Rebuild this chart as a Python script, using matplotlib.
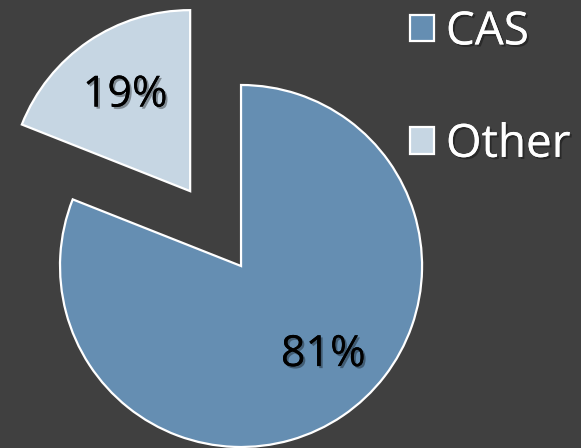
import matplotlib
matplotlib.use("Agg")
import matplotlib.pyplot as plt
import matplotlib.patheffects as pe
import matplotlib.transforms as mtransforms

# ─── Data ─────────────────────────────────────────────────────────────────────
labels = ["Other", "CAS"]
values = [19, 81]
colors = ["#c6d6e3", "#658eb2"]
explode = [0.5, 0.0]

BG = "#404040"
plt.rcParams["font.family"] = ["Open Sans", "DejaVu Sans"]

fig = plt.figure(figsize=(5.81, 4.48), dpi=100, facecolor=BG)
ax = fig.add_axes([0, 0, 1, 1])
ax.set_facecolor(BG)

shadow = [pe.withSimplePatchShadow(offset=(1.5, -1.5), shadow_rgbFace="black", alpha=0.35), pe.Normal()]

wedges, texts, autotexts = ax.pie(
    values, colors=colors, explode=explode, startangle=90, counterclock=True,
    autopct="%d%%", pctdistance=0.64,
    wedgeprops=dict(edgecolor="white", linewidth=1.6),
    textprops=dict(fontsize=31, color="black"),
)
for t in autotexts:
    t.set_path_effects(shadow)
# the 81% label sits a little right of the wedge middle in the original
autotexts[1].set_transform(autotexts[1].get_transform() +
                           mtransforms.ScaledTranslation(0.17, 0.07, fig.dpi_scale_trans))

# map the pie onto the canvas: centre near (241, 266) px, radius 181 px
ax.set_xlim(-1.3315, 1.878)
ax.set_ylim(-1.0055, 1.4696)
ax.set_aspect("auto")
ax.axis("off")

# legend: CAS first, then Other
order = [1, 0]
leg = ax.legend([wedges[i] for i in order], [labels[i] for i in order],
                loc="upper left", bbox_to_anchor=(0.706, 0.979),
                bbox_transform=fig.transFigure, frameon=False,
                fontsize=33, handlelength=0.51, handleheight=0.51,
                handletextpad=0.27, labelspacing=1.45, borderpad=0,
                borderaxespad=0)
for t in leg.get_texts():
    t.set_color("white")
    t.set_path_effects(shadow)

fig.savefig("out.png", dpi=100, facecolor=BG)
